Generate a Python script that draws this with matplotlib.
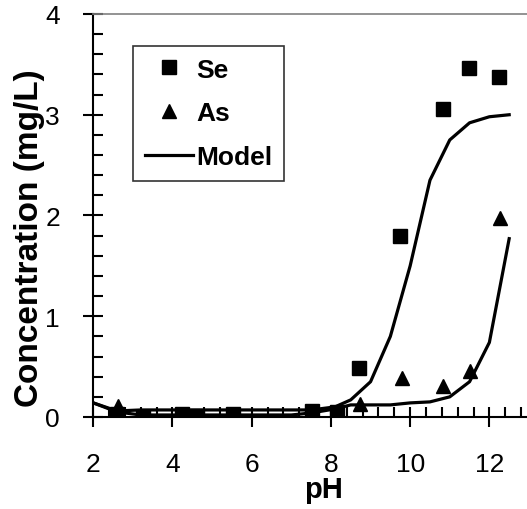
import matplotlib
matplotlib.use("Agg")
import matplotlib.pyplot as plt
from matplotlib.ticker import MultipleLocator

plt.rcParams['font.family'] = ['Liberation Sans', 'DejaVu Sans']

se_ph = [2.59, 3.26, 4.23, 4.61, 5.54, 7.52, 8.15, 8.71, 9.74, 10.84, 11.49, 12.25]
se_conc = [0.03, 0.00, 0.03, 0.01, 0.03, 0.06, 0.05, 0.49, 1.80, 3.06, 3.46, 3.37]

as_ph = [2.62, 3.26, 4.23, 4.61, 5.54, 7.52, 8.15, 8.74, 9.79, 10.84, 11.52, 12.28]
as_conc = [0.11, 0.01, 0.01, 0.01, 0.01, 0.02, 0.04, 0.13, 0.39, 0.31, 0.46, 1.98]

se_model_ph = [2.0, 2.6, 3.2, 4.3, 5.5, 7.0, 7.5, 8.1, 8.5, 9.0, 9.5, 10.0, 10.5, 11.0, 11.5, 12.0, 12.5]
se_model_conc = [0.14, 0.06, 0.07, 0.07, 0.07, 0.07, 0.07, 0.10, 0.17, 0.35, 0.80, 1.50, 2.35, 2.75, 2.92, 2.98, 3.00]

as_model_ph = [2.0, 2.6, 3.2, 4.3, 5.5, 7.0, 7.5, 8.1, 8.5, 9.0, 9.5, 10.0, 10.5, 11.0, 11.5, 12.0, 12.5]
as_model_conc = [0.14, 0.05, 0.02, 0.02, 0.02, 0.02, 0.04, 0.08, 0.12, 0.12, 0.12, 0.14, 0.15, 0.20, 0.35, 0.74, 1.77]

fig = plt.figure(figsize=(5.27, 5.10), dpi=100)
ax = fig.add_axes([0.177, 0.1804, 0.823, 0.7902])

ax.plot(se_model_ph, se_model_conc, color='black', lw=2.3, label='Model', zorder=2)
ax.plot(as_model_ph, as_model_conc, color='black', lw=2.3, zorder=2)
ax.plot(as_ph, as_conc, linestyle='none', marker='^', color='black', markersize=10, label='As', zorder=3)
ax.plot(se_ph, se_conc, linestyle='none', marker='s', color='black', markersize=9.5, label='Se', zorder=4)

ax.set_xlim(2, 12.95)
ax.set_ylim(0, 4)
ax.xaxis.set_major_locator(MultipleLocator(2))
ax.xaxis.set_minor_locator(MultipleLocator(0.4))
ax.yaxis.set_major_locator(MultipleLocator(1))
ax.yaxis.set_minor_locator(MultipleLocator(0.2))
ax.tick_params(which='major', direction='inout', length=14, width=1.5, labelsize=19)
ax.tick_params(which='minor', direction='in', length=7, width=1.5)
ax.tick_params(axis='x', which='major', pad=18)
ax.tick_params(axis='y', which='major', pad=17)

ax.spines['right'].set_visible(False)
ax.spines['top'].set_color('#808080')
ax.spines['top'].set_linewidth(1.2)
ax.spines['left'].set_linewidth(1.5)
ax.spines['bottom'].set_linewidth(1.5)

ax.set_xlabel('pH', fontsize=21, fontweight='bold')
ax.set_ylabel('Concentration (mg/L)', fontsize=24, fontweight='bold')
ax.xaxis.set_label_coords(0.53, -0.143)
ax.yaxis.set_label_coords(-0.112, 0.447)

handles, labels = ax.get_legend_handles_labels()
order = [labels.index('Se'), labels.index('As'), labels.index('Model')]
leg = ax.legend([handles[i] for i in order], [labels[i] for i in order],
                loc='upper left', bbox_to_anchor=(0.0915, 0.9206), borderaxespad=0,
                frameon=True, fancybox=False,
                edgecolor='black', prop={'weight': 'bold', 'size': 19},
                handlelength=1.85, labelspacing=0.75, borderpad=0.44, handletextpad=0.12)
leg.get_frame().set_linewidth(1.2)

fig.savefig('out.png', dpi=100)
